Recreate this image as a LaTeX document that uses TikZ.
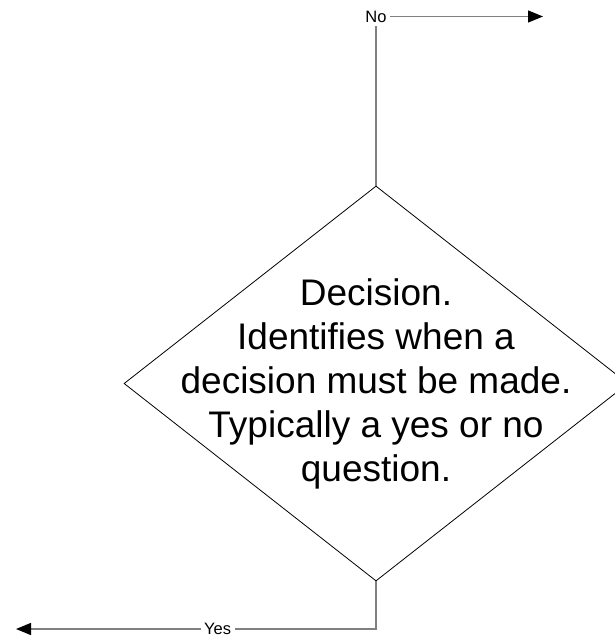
\documentclass[tikz,border=0pt]{standalone}
\usepackage{fontspec}
\setmainfont{Liberation Sans}
\usetikzlibrary{shapes.geometric, arrows.meta, positioning}

\begin{document}
\begin{tikzpicture}[x=1pt, y=-1pt,
      decision/.style={draw, diamond, line width=0.8pt, minimum width=504pt, minimum height=395pt, inner sep=0pt},
      flow/.style={draw=gray, line width=1.3pt, -{Triangle[length=15pt, width=12pt, color=black]}},
      answer/.style={fill=white, inner sep=3.5pt, font=\fontsize{16.5}{18}\selectfont}
    ]
    \useasboundingbox (0,0) rectangle (614,639);

    % Decision diamond with its text
    \node[decision] (dec) at (376,383.5) {};
    \node[align=center, font=\fontsize{37}{44}\selectfont] (dectext) at (dec.center)
      {Decision.\\ Identifies when a\\ decision must be made.\\ Typically a yes or no\\ question.};

    % Outgoing branches
    \coordinate (noend)  at (543,16.5);
    \coordinate (yesend) at (16,629);
    \draw[flow] (dec.north) |- node[answer, pos=0.5]  (nolbl)  {No}  (noend);
    \draw[flow] (dec.south) |- node[answer, pos=0.72] (yeslbl) {Yes} (yesend);
  \end{tikzpicture}
\end{document}
